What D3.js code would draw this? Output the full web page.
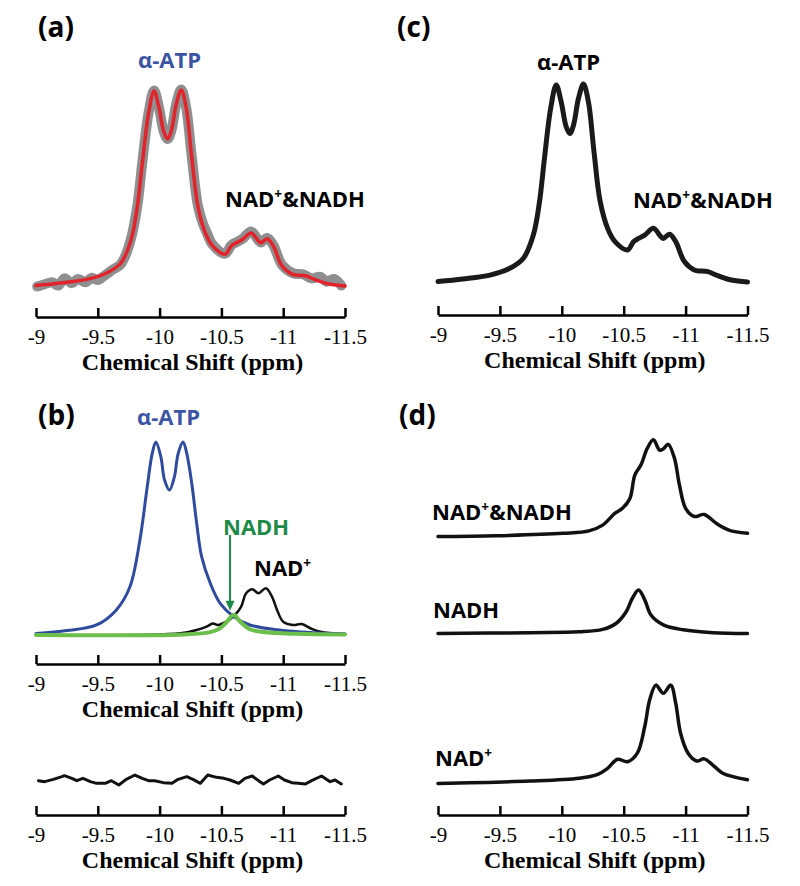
<!DOCTYPE html>
<html>
<head>
<meta charset="utf-8">
<script src="https://cdn.jsdelivr.net/npm/d3@7"></script>
<style>
  body { margin: 0; background: #fff; }
  svg { display: block; }
</style>
</head>
<body>
<div id="chart"></div>
<script>
// shared axis ticks
const ppmTicks = [-9, -9.5, -10, -10.5, -11, -11.5]
const tickLabels = ["-9", "-9.5", "-10", "-10.5", "-11", "-11.5"]

// total fit (red in a, black in c)
const fitPpm = [-9.0, -9.20, -9.42, -9.58, -9.69, -9.77, -9.82, -9.86, -9.91, -9.955, -9.995, -10.035, -10.065, -10.095, -10.135, -10.175, -10.215, -10.26, -10.31, -10.37, -10.43, -10.53, -10.58, -10.62, -10.67, -10.74, -10.80, -10.82, -10.87, -10.92, -10.99, -11.07, -11.18, -11.26, -11.37, -11.5]
const fitInt = [0.2, 1.5, 3.5, 6.9, 12, 23.7, 40.6, 62.5, 87.7, 99.5, 91, 78.5, 75, 79.3, 92.8, 100, 91, 65.8, 40.6, 27.1, 20.4, 16.2, 20.4, 22, 23.7, 27.1, 22.9, 22, 24.1, 20.4, 10.3, 6.1, 5.2, 3.2, 1, 0]

// measured spectrum (grey in a)
const measPpm = [-9.01, -9.07, -9.13, -9.18, -9.23, -9.29, -9.34, -9.40, -9.45, -9.50, -9.56, -9.63, -9.68, -9.72, -9.77, -9.82, -9.86, -9.91, -9.955, -9.995, -10.035, -10.065, -10.095, -10.135, -10.175, -10.215, -10.26, -10.31, -10.35, -10.38, -10.43, -10.53, -10.58, -10.62, -10.67, -10.74, -10.80, -10.82, -10.87, -10.92, -10.99, -11.08, -11.16, -11.23, -11.30, -11.35, -11.41, -11.47]
const measInt = [-0.3, 0.9, 1.9, 0.2, 3.9, 1.4, 3.6, 1.9, 4.2, 3.1, 5.6, 8.7, 10.7, 15, 24.5, 41, 63, 88, 99.8, 91, 78.5, 75, 79.3, 93, 100.3, 91, 66, 41, 32, 27.5, 21, 16.5, 20.8, 22.3, 24, 27.8, 23.2, 22.2, 24.5, 20.8, 10.8, 6.5, 6.0, 3.9, 4.7, 2.2, 3.6, 0.2]

// fitted components (b)
const atpPpm = [-9.0, -9.25, -9.49, -9.65, -9.76, -9.84, -9.90, -9.94, -9.97, -10.01, -10.04, -10.08, -10.12, -10.15, -10.19, -10.22, -10.26, -10.30, -10.34, -10.41, -10.49, -10.60, -10.73, -10.97, -11.24, -11.5]
const atpInt = [0.8, 2.3, 5.2, 13, 25, 49, 76.8, 94, 100, 92.4, 80.3, 75.1, 82, 94, 100, 94, 78.6, 57.9, 40.6, 26.8, 16.4, 9.5, 5.2, 2.6, 1.2, 0.5]

const nadhPpm = [-9.0, -10.2, -10.41, -10.49, -10.54, -10.60, -10.65, -10.73, -10.84, -11.11, -11.5]
const nadhInt = [0, 0.3, 1.5, 3.5, 6.5, 10.5, 7, 3, 1.5, 0.6, 0.3]

const nadPpm = [-9.0, -10.17, -10.30, -10.38, -10.43, -10.47, -10.54, -10.61, -10.66, -10.70, -10.75, -10.80, -10.86, -10.91, -10.95, -11.00, -11.08, -11.15, -11.22, -11.30, -11.5]
const nadInt = [0, 0.9, 2.6, 4.3, 6.0, 5.2, 6.9, 10.4, 14.7, 21.6, 23.7, 21.6, 24.2, 19.8, 13, 6.9, 5.2, 5.7, 3.5, 1.7, 0.5]

// residual (bottom of b)
const resPpm = [-9.02, -9.07, -9.14, -9.21, -9.23, -9.29, -9.33, -9.38, -9.44, -9.49, -9.56, -9.61, -9.67, -9.73, -9.80, -9.86, -9.91, -9.96, -10.03, -10.10, -10.15, -10.22, -10.27, -10.33, -10.39, -10.46, -10.52, -10.57, -10.64, -10.69, -10.75, -10.80, -10.84, -10.89, -10.96, -11.01, -11.07, -11.12, -11.18, -11.23, -11.31, -11.38, -11.42, -11.47]
const resInt = [0.17, -0.35, 0.86, 2.24, 2.76, 1.38, 0.17, 1.38, -0.35, -1.21, -1.21, 0.17, -2.07, 0.86, 3.1, 1.38, 0.17, 0.17, -0.86, -1.21, 0.86, 2.24, 0.86, -1.21, 3.1, 1.9, 1.38, 0.52, -1.21, 1.38, 2.59, 0.17, -1.55, 0.52, 2.59, 0.52, -0.86, -1.21, -1.55, 0.17, 2.59, -0.35, 0.52, -1.55]

// simulated spectra (d)
const dSumPpm = [-9.0, -9.47, -10.01, -10.22, -10.33, -10.43, -10.49, -10.55, -10.59, -10.64, -10.69, -10.74, -10.79, -10.82, -10.86, -10.91, -10.95, -11.00, -11.07, -11.15, -11.25, -11.35, -11.5]
const dSumInt = [0.1, 0.3, 0.9, 1.5, 2.9, 5.8, 7.0, 9.4, 15.1, 17.6, 21.6, 23.7, 21.2, 21.5, 22.6, 19.2, 12.7, 7.0, 5.0, 5.5, 3.3, 1.7, 0.9]

const dNadhPpm = [-9.0, -9.74, -10.14, -10.33, -10.44, -10.52, -10.57, -10.62, -10.67, -10.72, -10.82, -10.98, -11.22, -11.5]
const dNadhInt = [0, 0.2, 0.4, 1.0, 2.5, 5.3, 8.6, 10.6, 8.2, 4.5, 2.1, 0.9, 0.2, 0]

const dNadPpm = [-9.0, -9.74, -10.14, -10.28, -10.37, -10.45, -10.53, -10.61, -10.67, -10.71, -10.76, -10.82, -10.88, -10.92, -10.96, -11.02, -11.09, -11.15, -11.22, -11.30, -11.5]
const dNadInt = [0, 0.6, 1.3, 2.1, 3.7, 5.9, 5.3, 7.4, 13.9, 20.4, 24.0, 22.0, 24.0, 19.6, 12.2, 7.4, 5.5, 6.0, 4.5, 2.5, 0.9]

const nadhArrowPpm = -10.57

let width = 800
let height = 886
const sans = "'Open Sans', sans-serif"
const serif = "'Liberation Serif', 'Times New Roman', serif"

const svg = d3.select('#chart')
    .append('svg')
    .attr('width', width)
    .attr('height', height)

svg.append('rect').attr('width', width).attr('height', height).attr('fill', '#fff')

const xLeft = d3.scaleLinear().domain([-9, -11.5]).range([36, 345])
const xRight = d3.scaleLinear().domain([-9, -11.5]).range([438, 747.5])

const zip = (xs, ys) => xs.map((x, i) => [x, ys[i]])

const drawLine = (x, y, xs, ys, color, w, curve) => {
    const line = d3.line()
        .x(d => x(d[0]))
        .y(d => y(d[1]))
        .curve(curve || d3.curveCatmullRom.alpha(0.5))
    svg.append('path')
        .datum(zip(xs, ys))
        .attr('d', line)
        .attr('fill', 'none')
        .attr('stroke', color)
        .attr('stroke-width', w)
        .attr('stroke-linejoin', 'round')
        .attr('stroke-linecap', 'round')
}

const drawAxis = (x, y0) => {
    const axis = d3.axisBottom(x)
        .tickValues(ppmTicks)
        .tickFormat((d, i) => tickLabels[i])
        .tickSize(-9)
        .tickSizeOuter(0)
        .tickPadding(12)
    const g = svg.append('g')
        .attr('transform', `translate(0,${y0})`)
        .call(axis)
    g.select('.domain').attr('stroke', '#000').attr('stroke-width', 2.5)
    g.selectAll('.tick line').attr('stroke', '#000').attr('stroke-width', 2.5)
    g.selectAll('.tick text')
        .attr('font-family', serif)
        .attr('font-size', 21)
        .attr('fill', '#000')
    const r = x.range()
    svg.append('text')
        .attr('x', (r[0] + r[1]) / 2 + 2)
        .attr('y', y0 + 53)
        .attr('text-anchor', 'middle')
        .attr('font-family', serif)
        .attr('font-weight', 'bold')
        .attr('font-size', 24)
        .text('Chemical Shift (ppm)')
}

// text with optional superscript "+"
const label = (x, y, parts, color, size) => {
    const t = svg.append('text')
        .attr('x', x)
        .attr('y', y)
        .attr('font-family', sans)
        .attr('font-weight', 'bold')
        .attr('font-size', size || 22)
        .attr('fill', color || '#000')
    parts.forEach(p => {
        if (p === '+') {
            t.append('tspan').attr('dy', -8).attr('font-size', '62%').text('+')
        } else {
            t.append('tspan').attr('dy', t.selectAll('tspan').size() > 0 ? 8 : 0).text(p)
        }
    })
    return t
}

// ---- (a) ----
const yA = d3.scaleLinear().domain([0, 100]).range([286, 90])
drawLine(xLeft, yA, measPpm, measInt, '#8f8f8f', 10)
drawLine(xLeft, yA, fitPpm, fitInt, '#e3232b', 3.5)
drawAxis(xLeft, 317)
label(38, 29, ['(a)'], '#000', 28)
label(138, 60, ['α-ATP'], '#3b55a3')
label(225, 199, ['NAD', '+', '&NADH'])

// ---- (c) ----
const yC = d3.scaleLinear().domain([0, 100]).range([282, 84])
drawLine(xRight, yC, fitPpm, fitInt, '#1a1a1a', 5)
drawAxis(xRight, 315)
label(397, 29, ['(c)'], '#000', 28)
label(537, 61.5, ['α-ATP'])
label(633, 200, ['NAD', '+', '&NADH'])

// ---- (b) ----
const yB = d3.scaleLinear().domain([0, 100]).range([635, 442])
drawLine(xLeft, yB, nadPpm, nadInt, '#111', 2.5)
drawLine(xLeft, yB, atpPpm, atpInt, '#2f4b9e', 3)
drawLine(xLeft, yB, nadhPpm, nadhInt, '#6cbf4b', 4)
drawAxis(xLeft, 664)
label(38, 417, ['(b)'], '#000', 28)
label(137, 416.5, ['α-ATP'], '#3b55a3')
label(223, 527, ['NADH'], '#1f8a48')
label(254, 568, ['NAD', '+'])

// arrow to NADH peak
const ax = xLeft(nadhArrowPpm)
const tipY = yB(d3.max(nadhInt)) - 4
svg.append('line')
    .attr('x1', ax).attr('x2', ax)
    .attr('y1', 535).attr('y2', tipY - 8)
    .attr('stroke', '#1f8a48').attr('stroke-width', 2)
svg.append('path')
    .attr('d', `M${ax - 4.5},${tipY - 10}L${ax + 4.5},${tipY - 10}L${ax},${tipY}Z`)
    .attr('fill', '#1f8a48')

// residual
const yR = d3.scaleLinear().domain([0, 100]).range([781, 588])
drawLine(xLeft, yR, resPpm, resInt, '#111', 3, d3.curveLinear)
drawAxis(xLeft, 815)

// ---- (d) ----
const dScale = base => d3.scaleLinear().domain([0, 25]).range([base, base - 25 * 4.1])
drawLine(xRight, dScale(537), dSumPpm, dSumInt, '#111', 3.5)
drawLine(xRight, dScale(633.5), dNadhPpm, dNadhInt, '#111', 3.5)
drawLine(xRight, dScale(783.5), dNadPpm, dNadInt, '#111', 3.5)
drawAxis(xRight, 815)
label(399, 417, ['(d)'], '#000', 28)
label(432, 511.5, ['NAD', '+', '&NADH'])
label(433, 610, ['NADH'])
label(435, 758, ['NAD', '+'])
</script>
</body>
</html>
